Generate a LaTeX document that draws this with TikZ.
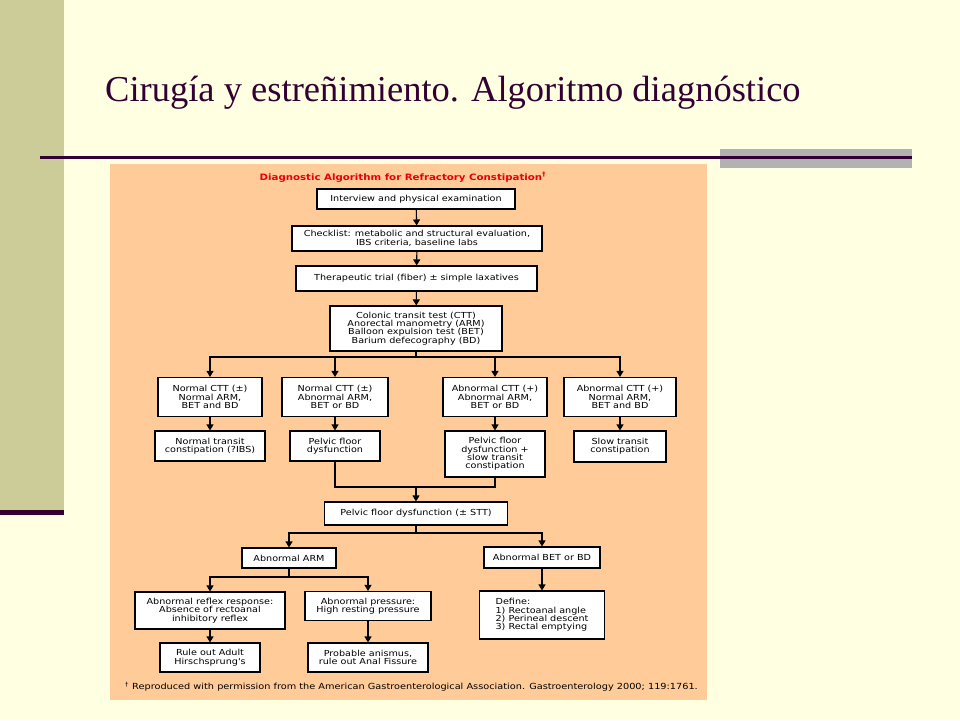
\documentclass[tikz,border=0pt]{standalone}
\usepackage{fontspec}
\setmainfont{Liberation Serif}
\newfontfamily\boxfont[FakeStretch=1.16]{DejaVu Sans}
\usetikzlibrary{arrows.meta}
\definecolor{bgc}{HTML}{FFFFE2}
\definecolor{olive}{HTML}{CCCC99}
\definecolor{plum}{HTML}{330033}
\definecolor{grayband}{HTML}{B2B2B2}
\definecolor{panel}{HTML}{FFCC99}
\definecolor{redtitle}{HTML}{E8000A}
\begin{document}
\begin{tikzpicture}[x=1pt,y=-1pt,
  box/.style={draw=black, line width=1.1pt, fill=white, align=center, inner sep=0pt,
    font=\boxfont\fontsize{8.3}{8.4}\selectfont},
  link/.style={line width=1.1pt},
  arr/.style={link, -{Triangle[width=7pt,length=6pt]}}]
% background and slide decorations
\fill[bgc] (0,0) rectangle (960,720);
\useasboundingbox (0,0) rectangle (960,720);
\fill[olive] (0,0) rectangle (64,510);
\fill[plum] (0,510) rectangle (64,515);
\fill[grayband] (720,149) rectangle (912,168);
\fill[plum] (40,155.5) rectangle (912,158.5);
\node[anchor=base west, inner sep=0pt, text=plum, font=\fontsize{36.5}{40}\selectfont]
  (title) at (105,101) {Cirugía y estreñimiento. Algoritmo diagnóstico};
% panel
\fill[panel] (110,164) rectangle (707,700);
\node[inner sep=0pt, text=redtitle, font=\boxfont\bfseries\fontsize{8.8}{9}\selectfont]
  (head) at (403,177) {Diagnostic Algorithm for Refractory Constipation\textsuperscript{†}};
% boxes
\node[box, minimum width=198pt, minimum height=20pt] (b1) at (416,199) {Interview and physical examination};
\node[box, minimum width=250pt, minimum height=25pt] (b2) at (417,238.5) {Checklist: metabolic and structural evaluation,\\IBS criteria, baseline labs};
\node[box, minimum width=241pt, minimum height=25pt] (b3) at (416.5,278.5) {Therapeutic trial (fiber) ± simple laxatives};
\node[box, minimum width=172pt, minimum height=45pt] (b4) at (416,328.5) {Colonic transit test (CTT)\\Anorectal manometry (ARM)\\Balloon expulsion test (BET)\\Barium defecography (BD)};
\node[box, minimum width=104pt, minimum height=39pt] (rA) at (210,397) {Normal CTT (±)\\Normal ARM,\\BET and BD};
\node[box, minimum width=106pt, minimum height=39pt] (rB) at (335,397) {Normal CTT (±)\\Abnormal ARM,\\BET or BD};
\node[box, minimum width=104pt, minimum height=39pt] (rC) at (495,397) {Abnormal CTT (+)\\Abnormal ARM,\\BET or BD};
\node[box, minimum width=112pt, minimum height=39pt] (rD) at (620,397) {Abnormal CTT (+)\\Normal ARM,\\BET and BD};
\node[box, minimum width=110pt, minimum height=30pt] (a2) at (210,446) {Normal transit\\constipation (?IBS)};
\node[box, minimum width=90pt, minimum height=30pt] (b2b) at (335,446) {Pelvic floor\\dysfunction};
\node[box, minimum width=100pt, minimum height=46pt] (c2) at (495,454) {Pelvic floor\\dysfunction +\\slow transit\\constipation};
\node[box, minimum width=92pt, minimum height=31pt] (d2) at (620,446.5) {Slow transit\\constipation};
\node[box, minimum width=183pt, minimum height=23pt] (pfd) at (416,513.5) {Pelvic floor dysfunction (± STT)};
\node[box, minimum width=94pt, minimum height=20pt] (aarm) at (289,558) {Abnormal ARM};
\node[box, minimum width=116pt, minimum height=21pt] (abet) at (542,557.5) {Abnormal BET or BD};
\node[box, minimum width=150pt, minimum height=37pt] (refl) at (210,610.5) {Abnormal reflex response:\\Absence of rectoanal\\inhibitory reflex};
\node[box, minimum width=126pt, minimum height=29pt] (pres) at (368,606) {Abnormal pressure:\\High resting pressure};
\node[box, minimum width=125pt, minimum height=48pt, align=left] (def) at (542,615) {Define:\\1) Rectoanal angle\\2) Perineal descent\\3) Rectal emptying};
\node[box, minimum width=100pt, minimum height=29pt] (rule) at (210,657.5) {Rule out Adult\\Hirschsprung's};
\node[box, minimum width=120pt, minimum height=29pt] (anis) at (368,657.5) {Probable anismus,\\rule out Anal Fissure};
\node[anchor=east, inner sep=0pt, font=\boxfont\fontsize{8.4}{8.6}\selectfont]
  (foot) at (698,687) {\textsuperscript{†} Reproduced with permission from the American Gastroenterological Association. Gastroenterology 2000; 119:1761.};
% connectors
\draw[arr] (b1) -- (b2);
\draw[arr] (b2) -- (b3);
\draw[arr] (b3) -- (b4);
\coordinate (j1) at (416,357);
\draw[link] (b4.south) -- (j1);
\draw[arr] (j1) -| (rA.north);
\draw[arr] (j1) -| (rB.north);
\draw[arr] (j1) -| (rC.north);
\draw[arr] (j1) -| (rD.north);
\draw[arr] (rA) -- (a2);
\draw[arr] (rB) -- (b2b);
\draw[arr] (rC) -- (c2);
\draw[arr] (rD) -- (d2);
\coordinate (j2) at (416,487);
\draw[link] (b2b.south) |- (j2);
\draw[link] (c2.south) |- (j2);
\draw[arr] (j2) -- (pfd.north);
\coordinate (j3) at (416,533);
\draw[link] (pfd.south) -- (j3);
\draw[arr] (j3) -| (aarm.north);
\draw[arr] (j3) -| (abet.north);
\coordinate (j4) at (289,577);
\draw[link] (aarm.south) -- (j4);
\draw[arr] (j4) -| (refl.north);
\draw[arr] (j4) -| (pres.north);
\draw[arr] (abet) -- (def);
\draw[arr] (refl) -- (rule);
\draw[arr] (pres) -- (anis);
\end{tikzpicture}
\end{document}
